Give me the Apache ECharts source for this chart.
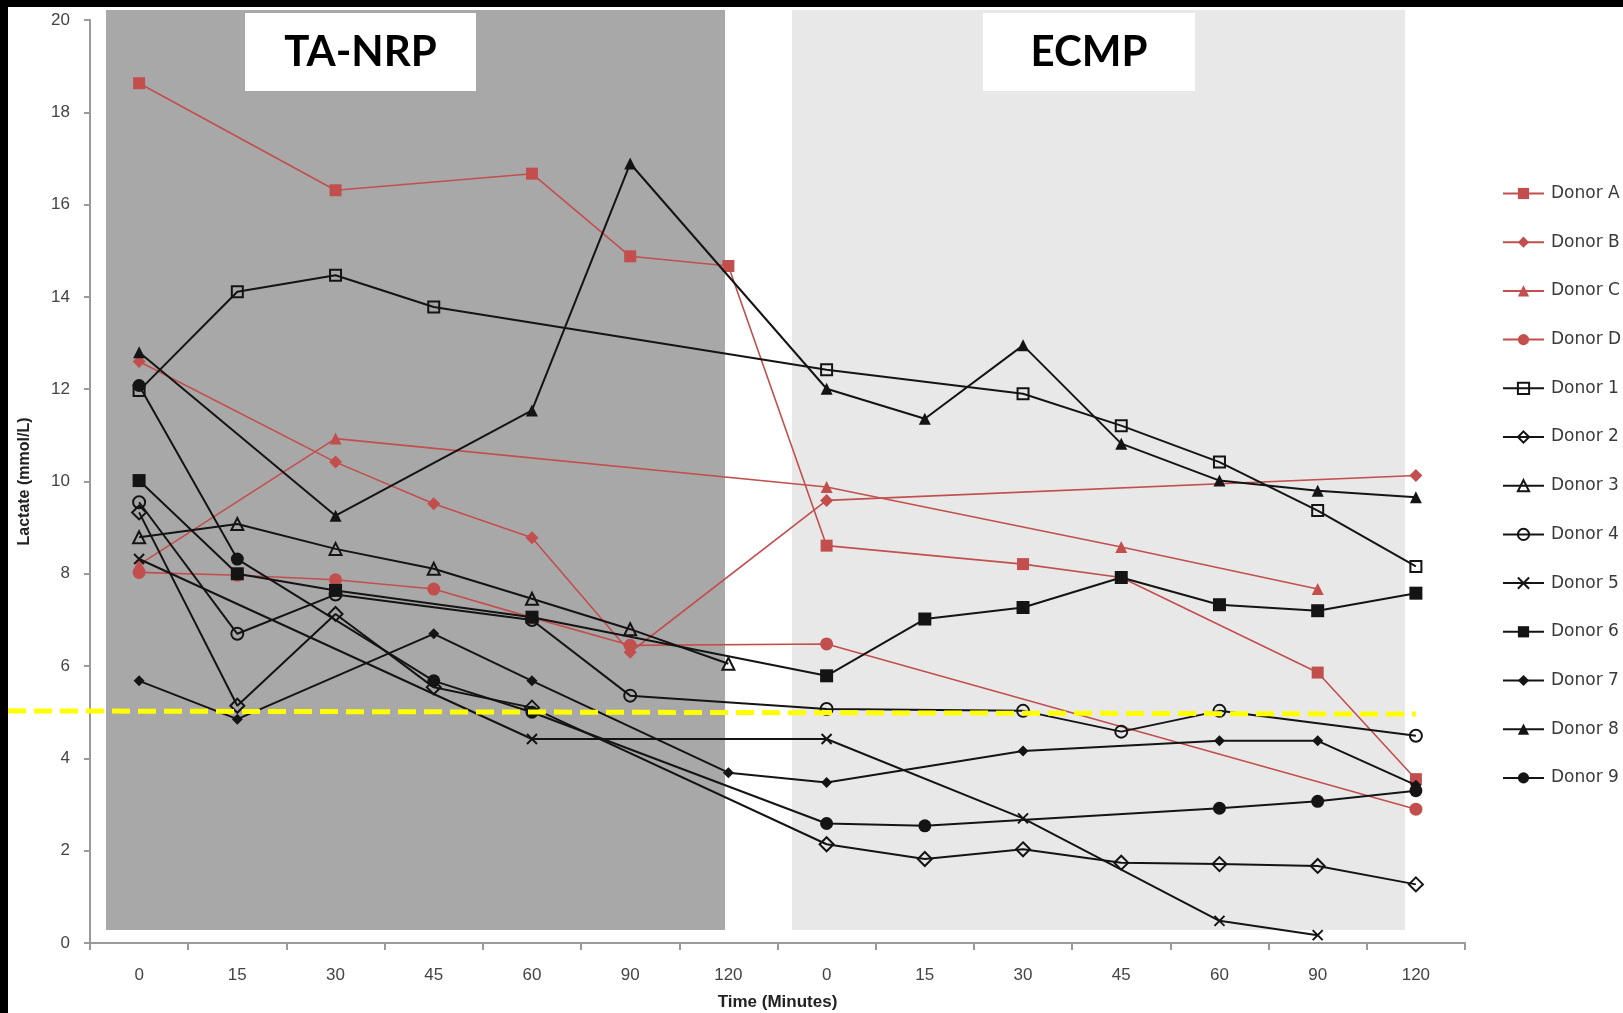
<!DOCTYPE html>
<html>
<head>
<meta charset="utf-8">
<script src="https://cdn.jsdelivr.net/npm/echarts@6/dist/echarts.min.js"></script>
<style>
  html, body { margin: 0; padding: 0; background: #ffffff; overflow: hidden; }
  #chart { width: 1623px; height: 1013px; }
</style>
</head>
<body>
<div id="chart"></div>
<script>
// Time points: TA-NRP phase followed by ECMP phase
const timeLabels = ['0', '15', '30', '45', '60', '90', '120', '0', '15', '30', '45', '60', '90', '120'];
const yTicks = { min: 0, max: 20, interval: 2 };

// Lactate (mmol/L) per donor; null = not sampled
const donorA = [18.63, null, 16.31, null, 16.67, 14.88, 14.67, 8.61, null, 8.21, 7.92, null, 5.86, 3.55];
const donorB = [12.6, null, 10.42, 9.52, 8.78, 6.3, null, 9.59, null, null, null, null, null, 10.13];
const donorC = [8.2, null, 10.93, null, null, null, null, 9.88, null, null, 8.58, null, 7.67, null];
const donorD = [8.03, 7.97, 7.87, 7.67, 7.05, 6.45, null, 6.48, null, null, null, null, null, 2.9];
const donor1 = [11.97, 14.11, 14.47, 13.78, null, null, null, 12.42, null, 11.9, 11.21, 10.42, 9.37, 8.16];
const donor2 = [9.33, 5.14, 7.13, 5.54, 5.1, null, null, 2.14, 1.82, 2.03, 1.74, 1.71, 1.67, 1.27];
const donor3 = [8.79, 9.08, 8.54, 8.11, 7.46, 6.8, 6.05, null, null, null, null, null, null, null];
const donor4 = [9.55, 6.7, 7.55, null, 7.0, 5.36, null, 5.07, null, 5.03, 4.58, 5.03, null, 4.49];
const donor5 = [8.32, null, null, null, 4.42, null, null, 4.42, null, 2.7, null, 0.48, 0.17, null];
const donor6 = [10.02, 8.0, 7.64, null, 7.06, null, null, 5.79, 7.02, 7.27, 7.92, 7.33, 7.2, 7.58];
const donor7 = [5.68, 4.85, null, 6.7, 5.68, null, 3.69, 3.48, null, 4.16, null, 4.38, 4.38, 3.42];
const donor8 = [12.8, null, 9.26, null, 11.54, 16.89, null, 12.01, 11.36, 12.95, 10.82, 10.02, 9.8, 9.66];
const donor9 = [12.08, 8.32, null, 5.68, 5.0, null, null, 2.59, 2.54, null, null, 2.92, 3.07, 3.3];

// Reference lactate threshold (dashed yellow line), slightly tilted end to end
const thresholdLeft = 5.03;
const thresholdRight = 4.96;

const RED = '#c24f4d';
const BLACK = '#141414';
const CROSS = 'path://M0,0L10,10M10,0L0,10';

function redSeries(name, data, symbol, size) {
  return {
    name, type: 'line', data, connectNulls: true, symbol, symbolSize: size,
    lineStyle: { color: RED, width: 1.6 },
    itemStyle: { color: RED, borderWidth: 0 },
    z: 3
  };
}
function blackFilled(name, data, symbol, size) {
  return {
    name, type: 'line', data, connectNulls: true, symbol, symbolSize: size,
    lineStyle: { color: BLACK, width: 2 },
    itemStyle: { color: BLACK, borderWidth: 0 },
    z: 4
  };
}
function blackOpen(name, data, symbol, size) {
  return {
    name, type: 'line', data, connectNulls: true, symbol, symbolSize: size,
    lineStyle: { color: BLACK, width: 2 },
    itemStyle: { color: 'rgba(0,0,0,0)', borderColor: BLACK, borderWidth: 2 },
    z: 4
  };
}

const series = [
  redSeries('Donor A', donorA, 'rect', 12),
  redSeries('Donor B', donorB, 'diamond', 13),
  redSeries('Donor C', donorC, 'triangle', 12),
  redSeries('Donor D', donorD, 'circle', 13),
  blackOpen('Donor 1', donor1, 'rect', 11),
  blackOpen('Donor 2', donor2, 'diamond', 14),
  blackOpen('Donor 3', donor3, 'triangle', 12),
  blackOpen('Donor 4', donor4, 'circle', 12),
  blackOpen('Donor 5', donor5, CROSS, 10),
  blackFilled('Donor 6', donor6, 'rect', 13),
  blackFilled('Donor 7', donor7, 'diamond', 11),
  blackFilled('Donor 8', donor8, 'triangle', 12),
  blackFilled('Donor 9', donor9, 'circle', 13)
];

const chart = echarts.init(document.getElementById('chart'), null, { renderer: 'canvas', width: 1623, height: 1013 });

const option = {
  backgroundColor: '#ffffff',
  animation: false,
  textStyle: { fontFamily: 'Liberation Sans, Arial, sans-serif' },
  grid: { left: 90, top: 20, width: 1375, height: 923, containLabel: false, outerBoundsMode: 'none' },
  legend: {
    orient: 'vertical',
    left: 1497,
    top: 180,
    itemWidth: 41,
    itemHeight: 14,
    itemGap: 31.7,
    data: series.map(s => s.name),
    textStyle: { fontFamily: 'DejaVu Sans, sans-serif', fontSize: 17, color: '#3a3a3a', padding: [0, 0, 0, 2] }
  },
  xAxis: {
    type: 'category',
    data: timeLabels,
    boundaryGap: true,
    name: 'Time (Minutes)',
    nameLocation: 'middle',
    nameGap: 51,
    nameTextStyle: { fontWeight: 'bold', fontSize: 17, color: '#222' },
    axisLine: { lineStyle: { color: '#9a9a9a', width: 2 } },
    axisTick: { show: true, interval: 0, length: 7, lineStyle: { color: '#9a9a9a', width: 2 } },
    axisLabel: { interval: 0, fontSize: 17, color: '#444', margin: 24 },
    splitLine: { show: false }
  },
  yAxis: {
    type: 'value',
    min: yTicks.min,
    max: yTicks.max,
    interval: yTicks.interval,
    name: 'Lactate (mmol/L)',
    nameLocation: 'middle',
    nameGap: 57,
    nameTextStyle: { fontWeight: 'bold', fontSize: 16, color: '#222' },
    axisLine: { show: true, lineStyle: { color: '#9a9a9a', width: 2 } },
    axisTick: { show: true, length: 6, lineStyle: { color: '#9a9a9a', width: 2 } },
    axisLabel: { fontSize: 17, color: '#444', margin: 20 },
    splitLine: { show: false }
  },
  graphic: [
    // frame strips along the top and left edges
    { id: 'frameTop', type: 'rect', shape: { x: 0, y: 0, width: 1623, height: 7 }, style: { fill: '#000' }, z: 100 },
    { id: 'frameLeft', type: 'rect', shape: { x: 0, y: 0, width: 8, height: 1013 }, style: { fill: '#000' }, z: 100 },
    // phase panels
    { id: 'panelNRP', type: 'rect', shape: { x: 106, y: 10, width: 619, height: 920 }, style: { fill: '#a8a8a8' }, z: -10 },
    { id: 'panelECMP', type: 'rect', shape: { x: 792, y: 10, width: 613, height: 920 }, style: { fill: '#e8e8e8' }, z: -10 },
    // phase titles
    { id: 'boxNRP', type: 'rect', shape: { x: 245, y: 13, width: 231, height: 78 }, style: { fill: '#ffffff' }, z: 50 },
    { id: 'textNRP', type: 'text', x: 360.5, y: 52, style: { text: 'TA-NRP', fill: '#000', font: 'bold 42px Lato, "Open Sans", sans-serif', textAlign: 'center', textVerticalAlign: 'middle' }, z: 51 },
    { id: 'boxECMP', type: 'rect', shape: { x: 983, y: 13, width: 212, height: 78 }, style: { fill: '#ffffff' }, z: 50 },
    { id: 'textECMP', type: 'text', x: 1089, y: 52, style: { text: 'ECMP', fill: '#000', font: 'bold 42px Lato, "Open Sans", sans-serif', textAlign: 'center', textVerticalAlign: 'middle' }, z: 51 }
  ],
  series
};

chart.setOption(option);

// Threshold line drawn through the axis scales, running out to the left edge
const yLeft = chart.convertToPixel({ yAxisIndex: 0 }, thresholdLeft);
const yRight = chart.convertToPixel({ yAxisIndex: 0 }, thresholdRight);
const xRight = chart.convertToPixel({ xAxisIndex: 0 }, timeLabels.length - 1);
chart.setOption({
  graphic: [{
    id: 'threshold', type: 'line',
    shape: { x1: 8, y1: yLeft, x2: xRight, y2: yRight },
    style: { stroke: '#ffff00', lineWidth: 5, lineDash: [18, 8] },
    z: 60
  }]
});
</script>
</body>
</html>
